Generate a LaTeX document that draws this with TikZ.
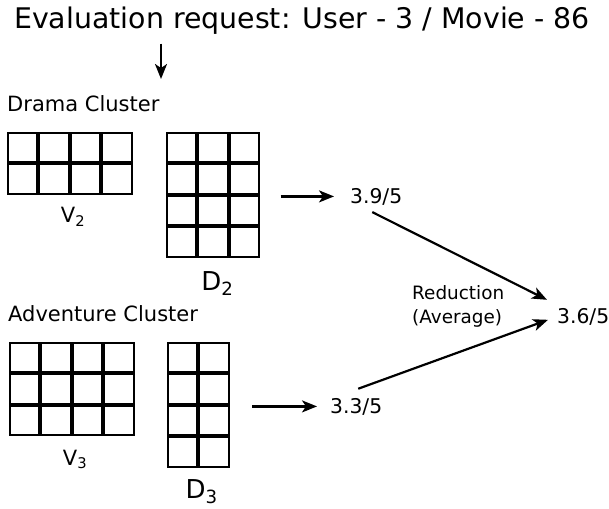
\documentclass[tikz,border=0pt]{standalone}
\usepackage{fontspec}
\setmainfont{DejaVu Sans}
\usepackage{tikz}
\usetikzlibrary{arrows.meta,positioning}

\begin{document}
\begin{tikzpicture}[x=1pt, y=-1pt,
  every node/.style={inner sep=0pt, font=\fontsize{21}{25}\selectfont},
  gridbox/.style={anchor=north west, minimum width=#1},
  cell/.style={draw, line width=2pt},
  value/.style={anchor=base west, font=\fontsize{20.3}{24}\selectfont},
  vlabel/.style={font=\fontsize{21}{25}\selectfont},
  dlabel/.style={font=\fontsize{26}{30}\selectfont},
  flow/.style={-{Stealth[length=15pt, width=12pt, inset=4pt]}, line width=2.2pt}]
\useasboundingbox (0,0) rectangle (609,508);
% request
\node[anchor=base west, font=\fontsize{28.4}{32}\selectfont] (title) at (14,29)
  {Evaluation request: User - 3 / Movie - 86};
\coordinate (reqend) at (161,79);
\draw[flow, shorten <=8.5pt] (reqend |- title.south) -- (reqend);
% drama cluster
\node[anchor=base west] (drama) at (7,111) {Drama Cluster};
\node[gridbox=125.6pt, minimum height=62.8pt] (v2) at (7,132) {};
\node[gridbox=94.2pt, minimum height=125.6pt] (d2) at (166,132) {};
\foreach \c in {0,...,3} \foreach \r in {0,1}
  \draw[cell] ([shift={(\c*31.4+1,\r*31.4+1)}]v2.north west) rectangle ++(29.4,29.4);
\foreach \c in {0,...,2} \foreach \r in {0,...,3}
  \draw[cell] ([shift={(\c*31.4+1,\r*31.4+1)}]d2.north west) rectangle ++(29.4,29.4);
\node[vlabel, below=12pt of v2, xshift=3pt] (v2lbl) {V\textsubscript{2}};
\node[dlabel, below=13pt of d2, xshift=4pt] (d2lbl) {D\textsubscript{2}};
% adventure cluster
\node[anchor=base west] (adventure) at (8,321) {Adventure Cluster};
\node[gridbox=125.6pt, minimum height=94.2pt] (v3) at (9,342) {};
\node[gridbox=62.8pt, minimum height=125.6pt] (d3) at (167,342) {};
\foreach \c in {0,...,3} \foreach \r in {0,...,2}
  \draw[cell] ([shift={(\c*31.4+1,\r*31.4+1)}]v3.north west) rectangle ++(29.4,29.4);
\foreach \c in {0,1} \foreach \r in {0,...,3}
  \draw[cell] ([shift={(\c*31.4+1,\r*31.4+1)}]d3.north west) rectangle ++(29.4,29.4);
\node[vlabel, below=13pt of v3, xshift=3pt] (v3lbl) {V\textsubscript{3}};
\node[dlabel, below=11pt of d3, xshift=3pt] (d3lbl) {D\textsubscript{3}};
% ratings
\node[value] (n39) at (350,203) {3.9/5};
\node[value] (n33) at (330,413) {3.3/5};
\node[value] (n36) at (557,323) {3.6/5};
\node[anchor=west, align=left, font=\fontsize{18.4}{24}\selectfont] (reduce) at (412,306)
  {Reduction\\(Average)};
\draw[flow, shorten <=20pt, shorten >=16pt] (d2.east |- n39) -- (n39.west);
\draw[flow, shorten <=22pt, shorten >=13pt] (d3.east |- n33) -- (n33.west);
\draw[flow] ([shift={(-4,7)}]n39.south) -- ([shift={(-10,-16.6)}]n36.west);
\draw[flow] ([shift={(2,-9)}]n33.north) -- ([shift={(-9,3.4)}]n36.west);
\end{tikzpicture}
\end{document}
